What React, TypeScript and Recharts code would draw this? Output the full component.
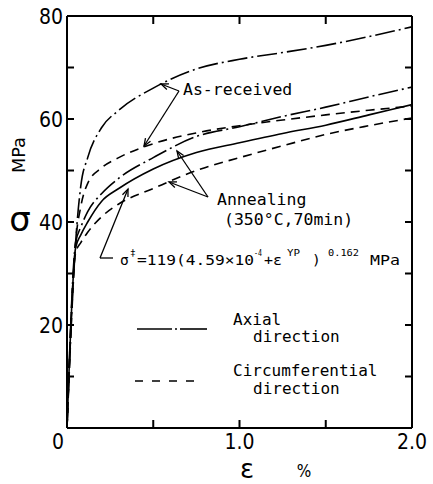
import React from "react"
import { LineChart, Line, XAxis, YAxis } from "recharts"

// strain in %, stress in MPa
const strain = [0, 0.05, 0.08, 0.12, 0.2, 0.3, 0.5, 0.75, 1.0, 1.25, 1.5, 1.75, 2.0]
const asReceivedAxial = [0, 36, 47, 52.5, 58.3, 61.7, 66, 69.7, 71.6, 72.9, 74.3, 76, 77.9]
const asReceivedCirc = [0, 36, 43, 47.5, 50.5, 52.5, 55.2, 57.3, 58.7, 59.8, 60.8, 61.7, 62.5]
const annealedAxial = [0, 36, 39, 42, 45.5, 48.5, 52.5, 56.6, 58.5, 60.5, 62.3, 64.3, 66.2]
const fitted = [0, 35, 37.5, 40, 44, 46.5, 50.3, 53.5, 55.4, 57.2, 58.8, 60.8, 62.8]
const annealedCirc = [0, 34, 36, 38, 41, 43.5, 46.5, 50, 52.5, 54.8, 57, 58.7, 60.2]

const xTicks = [0, 0.5, 1.0, 1.5, 2.0]
const xLabels: Record<number, string> = { 0: "0", 1: "1.0", 2: "2.0" }
const yTicks = [0, 10, 20, 30, 40, 50, 60, 70, 80]
const yLabels = [20, 40, 60, 80]
const xInner = [0.5, 1.0, 1.5]
const yInner = [10, 20, 30, 40, 50, 60, 70]

const data = strain.map((e, i) => ({
  e,
  ara: asReceivedAxial[i],
  arc: asReceivedCirc[i],
  ana: annealedAxial[i],
  fit: fitted[i],
  anc: annealedCirc[i],
}))

const W = 433
const H = 484
const L = 67
const R = 412
const T = 16
const B = 428
const X_MAX = 2
const Y_MAX = 80
const sx = (v: number) => L + (v / X_MAX) * (R - L)
const sy = (v: number) => B - (v / Y_MAX) * (B - T)

const tickFont = "'DejaVu Sans Condensed', 'DejaVu Sans', sans-serif"
const mono = "'DejaVu Sans Mono', 'Liberation Mono', monospace"
const DASHDOT = "20 4 2 4"
const DASHED = "9 6"

const BottomTick = (p: any) => {
  const v = p.payload.value
  const label = xLabels[v]
  if (!label) return <g />
  return (
    <text x={v === 0 ? p.x - 9 : p.x} y={B + 21} textAnchor="middle" fontSize={21} fontFamily={tickFont} fill="#000">
      {label}
    </text>
  )
}

const LeftTick = (p: any) => {
  const v = p.payload.value
  if (!yLabels.includes(v)) return <g />
  return (
    <text x={L - 4} y={p.y} dy="0.36em" textAnchor="end" fontSize={21} fontFamily={tickFont} fill="#000">
      {v}
    </text>
  )
}

function Arrow({ x1, y1, x2, y2 }: { x1: number; y1: number; x2: number; y2: number }) {
  const a = Math.atan2(y2 - y1, x2 - x1)
  const len = 8
  const s = 0.38
  const p1 = [x2 - len * Math.cos(a - s), y2 - len * Math.sin(a - s)]
  const p2 = [x2 - len * Math.cos(a + s), y2 - len * Math.sin(a + s)]
  return (
    <g stroke="#000" strokeWidth={1.3} fill="none">
      <line x1={x1} y1={y1} x2={x2} y2={y2} />
      <polyline points={`${p1[0]},${p1[1]} ${x2},${y2} ${p2[0]},${p2[1]}`} />
    </g>
  )
}

function Overlay() {
  const txt = { fontFamily: mono, fontSize: 16.5, fill: "#000" }
  const leg = { fontFamily: mono, fontSize: 16, fill: "#000" }
  const sup = { fontFamily: mono, fontSize: 9.5, fill: "#000", lengthAdjust: "spacingAndGlyphs" }
  const base = { fontFamily: mono, fontSize: 14.5, fill: "#000", lengthAdjust: "spacingAndGlyphs" }
  return (
    <svg width={W} height={H} style={{ position: "absolute", left: 0, top: 0, pointerEvents: "none" }}>
      {/* inward ticks on all four sides of the frame */}
      {xInner.map((v) => (
        <path key={`x${v}`} d={`M${sx(v)},${B} V${B - 8} M${sx(v)},${T} V${T + 8}`} stroke="#000" strokeWidth={2} fill="none" />
      ))}
      {yInner.map((v) => (
        <path key={`y${v}`} d={`M${L},${sy(v)} H${L + 7} M${R},${sy(v)} H${R - 7}`} stroke="#000" strokeWidth={2} fill="none" />
      ))}

      {/* axis titles */}
      <text x={20} y={231} textAnchor="middle" fontSize={34} fontFamily="'DejaVu Sans', sans-serif">σ</text>
      <text x={0} y={0} transform="translate(25,155) rotate(-90)" textAnchor="middle" fontSize={17}
        fontFamily={tickFont} textLength={36} lengthAdjust="spacingAndGlyphs">MPa</text>
      <text x={247} y={478} textAnchor="middle" fontSize={26} fontFamily="'DejaVu Sans', sans-serif">ε</text>
      <text x={304} y={477} textAnchor="middle" fontSize={17} fontFamily={tickFont}>%</text>

      {/* As-received */}
      <text x={183} y={95} {...txt}>As-received</text>
      <Arrow x1={179} y1={91} x2={161} y2={84} />
      <Arrow x1={179} y1={91} x2={144} y2={146} />

      {/* Annealing */}
      <text x={217} y={205} {...txt}>Annealing</text>
      <text x={224} y={225} {...txt}>(350°C,70min)</text>
      <Arrow x1={208} y1={197} x2={177} y2={151} />
      <Arrow x1={208} y1={197} x2={169} y2={182} />

      {/* formula */}
      <polyline points="113,258 100,258" stroke="#000" strokeWidth={1.3} fill="none" />
      <Arrow x1={100} y1={258} x2={128} y2={189} />
      <text x={120} y={265} {...base}>σ</text>
      <text x={130} y={256} {...sup}>‡</text>
      <text x={137} y={265} {...base} textLength={117}>=119(4.59×10</text>
      <text x={254} y={256} {...sup} textLength={8}>-4</text>
      <text x={264} y={265} {...base} textLength={18}>+ε</text>
      <text x={287} y={256} {...sup} textLength={13}>YP</text>
      <text x={312} y={265} {...base}>)</text>
      <text x={328} y={256} {...sup} textLength={31}>0.162</text>
      <text x={370} y={265} {...base} textLength={30}>MPa</text>

      {/* legend */}
      <g stroke="#000" strokeWidth={1.6}>
        <line x1={137} x2={172} y1={329} y2={329} />
        <line x1={175} x2={177} y1={329} y2={329} />
        <line x1={180} x2={207} y1={329} y2={329} />
        <line x1={135} x2={198} y1={381} y2={381} strokeDasharray="8 9" />
      </g>
      <text x={233} y={325} {...leg}>Axial</text>
      <text x={253} y={342} {...leg}>direction</text>
      <text x={233} y={376} {...leg}>Circumferential</text>
      <text x={253} y={394} {...leg}>direction</text>
    </svg>
  )
}

export default function App() {
  const axisLine = { stroke: "#000", strokeWidth: 2 }
  return (
    <div style={{ position: "relative", width: W, height: H, background: "#fff" }}>
      <style>{"body{margin:0}"}</style>
      <LineChart width={W} height={H} data={data} margin={{ top: T - 1, right: W - R - 1, bottom: H - B - 30, left: L - 60 }}>
        <XAxis dataKey="e" type="number" domain={[0, X_MAX]} ticks={xTicks} height={30} axisLine={axisLine}
          tickLine={false} tick={BottomTick} interval={0} allowDataOverflow />
        <XAxis xAxisId="top" orientation="top" type="number" domain={[0, X_MAX]} height={1}
          axisLine={axisLine} tickLine={false} tick={false} allowDataOverflow />
        <YAxis type="number" domain={[0, Y_MAX]} ticks={yTicks} width={60} axisLine={axisLine} tickLine={false}
          tick={LeftTick} interval={0} allowDataOverflow />
        <YAxis yAxisId="right" orientation="right" type="number" domain={[0, Y_MAX]} width={1}
          axisLine={axisLine} tickLine={false} tick={false} allowDataOverflow />
        <Line dataKey="ara" type="monotone" stroke="#000" strokeWidth={1.6} strokeDasharray={DASHDOT} dot={false} isAnimationActive={false} />
        <Line dataKey="arc" type="monotone" stroke="#000" strokeWidth={1.6} strokeDasharray={DASHED} dot={false} isAnimationActive={false} />
        <Line dataKey="ana" type="monotone" stroke="#000" strokeWidth={1.6} strokeDasharray={DASHDOT} dot={false} isAnimationActive={false} />
        <Line dataKey="fit" type="monotone" stroke="#000" strokeWidth={1.6} dot={false} isAnimationActive={false} />
        <Line dataKey="anc" type="monotone" stroke="#000" strokeWidth={1.6} strokeDasharray={DASHED} dot={false} isAnimationActive={false} />
      </LineChart>
      <Overlay />
    </div>
  )
}
